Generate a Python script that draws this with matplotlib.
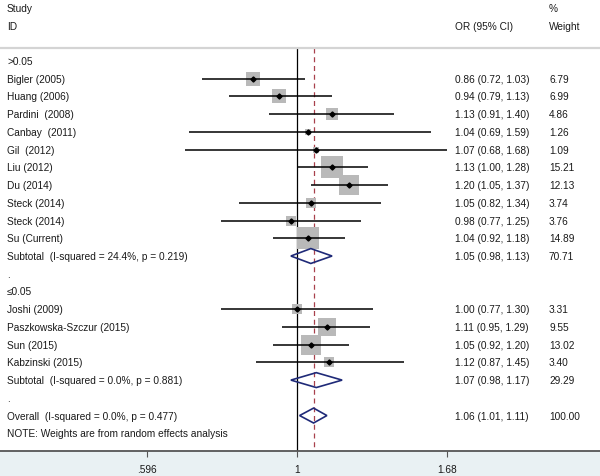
import numpy as np
import matplotlib
matplotlib.use('Agg')
from matplotlib import pyplot as plt, rcParams
from matplotlib.patches import Polygon

rcParams.update({'font.family': ['Liberation Sans', 'DejaVu Sans'], 'font.size': 7.3})

# studies: label, OR, lower, upper, weight
labels_1 = ['Bigler (2005)', 'Huang (2006)', 'Pardini  (2008)', 'Canbay  (2011)',
            'Gil  (2012)', 'Liu (2012)', 'Du (2014)', 'Steck (2014)', 'Steck (2014)',
            'Su (Current)']
or_1 = [0.86, 0.94, 1.13, 1.04, 1.07, 1.13, 1.20, 1.05, 0.98, 1.04]
lo_1 = [0.72, 0.79, 0.91, 0.69, 0.68, 1.00, 1.05, 0.82, 0.77, 0.92]
hi_1 = [1.03, 1.13, 1.40, 1.59, 1.68, 1.28, 1.37, 1.34, 1.25, 1.18]
w_1 = [6.79, 6.99, 4.86, 1.26, 1.09, 15.21, 12.13, 3.74, 3.76, 14.89]

labels_2 = ['Joshi (2009)', 'Paszkowska-Szczur (2015)', 'Sun (2015)', 'Kabzinski (2015)']
or_2 = [1.00, 1.11, 1.05, 1.12]
lo_2 = [0.77, 0.95, 0.92, 0.87]
hi_2 = [1.30, 1.29, 1.20, 1.45]
w_2 = [3.31, 9.55, 13.02, 3.40]

# pooled: label, OR, lower, upper, weight
pooled_labels = ['Subtotal  (I-squared = 24.4%, p = 0.219)',
                 'Subtotal  (I-squared = 0.0%, p = 0.881)',
                 'Overall  (I-squared = 0.0%, p = 0.477)']
pooled_or = [1.05, 1.07, 1.06]
pooled_lo = [0.98, 0.98, 1.01]
pooled_hi = [1.13, 1.17, 1.11]
pooled_w = [70.71, 29.29, 100.00]

tick_vals = [0.596, 1, 1.68]
tick_labels = ['.596', '1', '1.68']

# row positions (0 = header line, increasing downward)
rows_1 = np.arange(2, 12)
rows_2 = np.arange(15, 19)
rows_pooled = [12, 19, 21]

fig = plt.figure(figsize=(6, 4.77), dpi=100)
fig.patch.set_facecolor('#e9f1f3')
ax = fig.add_axes((0, 25/477, 1, 452/477))
ax.set_facecolor('white')
ax.set_xscale('log')
ax.set_xlim(0.3583, 2.855)
ax.set_ylim(23.0, -2.5)

tr = ax.get_yaxis_transform()
fmt = '{:.2f} ({:.2f}, {:.2f})'

box_c = '#b9b9b9'
dia_c = '#1f2a78'
ref_c = '#a8404c'
txt_c = '#1a1a1a'

def put(x_px, r, s):
    ax.text(x_px/600, r, s, transform=tr, va='center', ha='left', color=txt_c)

def draw_study(rows, ors, los, his, ws, labels):
    for r, o, l, h, w, lab in zip(rows, ors, los, his, ws, labels):
        side = 5.6 * np.sqrt(w) * 0.72
        ax.scatter([o], [r], s=side**2, marker='s', c=box_c, lw=0, zorder=2)
        ax.plot([l, h], [r, r], c='k', lw=1.1, zorder=3, solid_capstyle='butt')
        ax.plot([o], [r], marker='D', ms=2.6, c='k', zorder=4)
        put(7, r, lab)
        put(455, r, fmt.format(o, l, h))
        put(549, r, '{:.2f}'.format(w))

draw_study(rows_1, or_1, lo_1, hi_1, w_1, labels_1)
draw_study(rows_2, or_2, lo_2, hi_2, w_2, labels_2)

for r, o, l, h, w, lab in zip(rows_pooled, pooled_or, pooled_lo, pooled_hi,
                              pooled_w, pooled_labels):
    hh = 0.42
    ax.add_patch(Polygon([(l, r), (o, r - hh), (h, r), (o, r + hh)], closed=True,
                         fill=False, ec=dia_c, lw=1.2, zorder=5))
    put(7, r, lab)
    put(455, r, fmt.format(o, l, h))
    put(549, r, '{:.2f}'.format(w))

# reference lines
ax.plot([1, 1], [0.27, 23], c='k', lw=0.9, zorder=1)
ax.plot([pooled_or[2]] * 2, [0.27, 23], c=ref_c, lw=0.9, ls=(0, (4, 3)), zorder=1)
ax.axhline(0.27, c='#d4d4d4', lw=1.6)

# headers and group labels
put(7, -2, 'Study')
put(7, -1, 'ID')
put(455, -1, 'OR (95% CI)')
put(549, -2, '%')
put(549, -1, 'Weight')
put(7, 1, '>0.05')
put(7, 13, '.')
put(7, 14, '\u22640.05')
put(7, 20, '.')
put(7, 22, 'NOTE: Weights are from random effects analysis')

for s in ('top', 'left', 'right'):
    ax.spines[s].set_visible(False)
ax.spines['bottom'].set_color('#555555')
ax.spines['bottom'].set_linewidth(1.3)
ax.set_yticks([])
ax.set_xticks(tick_vals)
ax.set_xticklabels(tick_labels, color=txt_c)
ax.xaxis.set_minor_locator(matplotlib.ticker.NullLocator())
ax.tick_params(axis='x', length=4.3, width=0.8, color='#555555', pad=5)

fig.savefig('out.png', dpi=100)
